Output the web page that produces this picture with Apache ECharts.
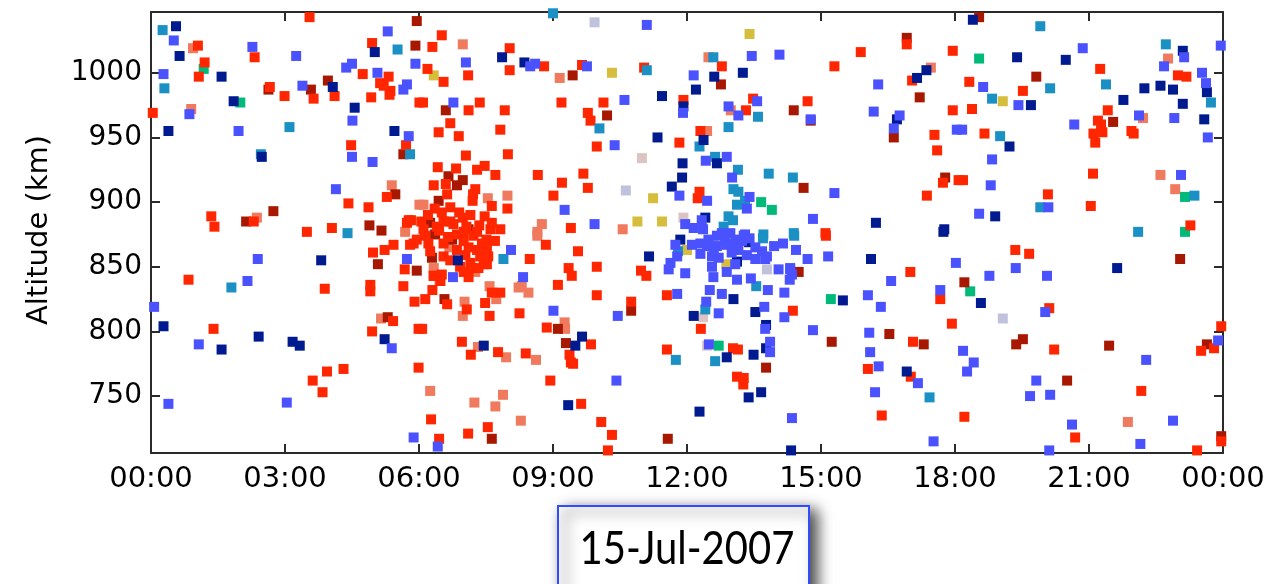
<!DOCTYPE html>
<html>
<head>
<meta charset="utf-8">
<script src="https://cdn.jsdelivr.net/npm/echarts@6/dist/echarts.min.js"></script>
<style>
html,body{margin:0;padding:0;background:#fff;}
#chart{width:1285px;height:584px;}
</style>
</head>
<body>
<div id="chart"></div>
<script>
// x = hour of day (UT), y = altitude (km)
const xTickHours = [0, 3, 6, 9, 12, 15, 18, 21, 24];
const yTickValues = [750, 800, 850, 900, 950, 1000];
const yAxisTitle = 'Altitude (km)';
const dateLabel = '15-Jul-2007';

const redPoints = [
[1.05,1021],[1.20,1008],[1.07,997],[3.55,1043],[2.32,1012],[2.66,989],[2.99,982],[3.64,980],[4.11,982],[0.04,969],
[4.74,999],[5.32,997],[5.13,992],[5.36,986],[5.34,983],[5.21,990],[4.93,981],[4.95,1023],[6.01,977],[5.71,944],
[4.48,944],[5.28,904],[4.42,899],[4.87,896],[1.35,889],[1.42,881],[2.30,885],[3.49,877],[4.05,880],[5.77,886],[5.73,884],
[0.84,840],[3.89,833],[1.40,802],[3.94,769],[4.31,771],[3.62,762],[3.84,753],[4.91,836],[4.91,831],[4.97,861],
[5.23,863],[5.43,867],[5.88,868],[5.68,848],[5.65,835],[5.90,823],[5.42,808],[4.95,800],[5.99,802],[5.99,772],
[6.51,1029],[6.30,1020],[8.03,1019],[6.19,1003],[6.55,993],[7.10,998],[8.03,1002],[8.80,1005],[9.65,1006],[11.04,1004],
[6.09,977],[7.11,971],[7.36,977],[7.92,971],[6.70,961],[6.44,954],[6.89,951],[7.82,956],[9.19,977],[10.13,977],
[9.78,969],[9.84,963],[11.92,979],[9.98,943],[11.83,946],[9.40,880],[9.01,905],[9.20,915],[9.78,911],[9.68,922],
[8.66,921],[7.99,937],[7.05,936],[6.42,927],[6.83,926],[7.30,925],[7.47,928],[7.71,921],[6.33,913],[6.60,914],
[7.26,910],[7.21,906],[6.63,906],[7.63,897],[7.98,895],[7.20,901],[6.70,896],[6.51,892],[7.47,889],
[6.98,888],[6.70,885],[5.82,886],[6.10,879],[6.14,874],[6.40,881],[6.55,885],[6.77,883],[7.06,881],[7.30,877],
[7.60,879],[7.82,879],[7.63,884],[7.51,871],[7.41,868],[7.22,874],[7.00,870],[6.55,868],[5.95,871],[5.80,867],
[6.21,868],[6.85,863],[7.11,865],[7.30,863],[7.52,865],[6.55,858],[7.04,859],[7.15,853],[7.37,858],[7.45,852],
[6.92,850],[7.19,849],[6.33,843],[6.51,844],[7.52,852],[7.33,849],
[6.20,890],[6.35,895],[6.90,892],[7.15,890],[6.45,878],[6.85,875],[7.00,877],[6.65,873],[7.35,882],[6.25,862],
[6.70,855],[7.00,846],[6.05,885],[7.70,870],[7.55,858],
[8.84,867],[9.56,862],[8.48,856],[9.98,850],[9.35,849],[9.42,843],[9.11,836],[7.11,842],[6.33,843],[6.48,839],
[7.82,830],[7.63,830],[6.30,832],[6.14,825],[6.63,821],[7.07,817],[7.48,822],[7.58,812],[8.25,814],[6.07,802],
[6.96,792],[7.16,782],[7.77,784],[8.39,783],[8.86,803],[9.85,790],[9.37,782],[9.40,776],[9.45,775],[10.75,823],
[9.98,828],[10.97,847],[11.09,843],[11.55,828],[11.55,786],[8.94,762],[9.63,744],[6.27,732],[10.08,730],[7.54,726],
[7.10,721],[6.45,717],[10.32,720],[10.23,708],
[12.78,1005],[13.48,980],[13.32,971],[14.70,978],[12.30,955],[12.28,908],[12.24,903],[15.10,876],[15.89,1016],[15.30,1005],
[16.92,1022],[17.95,1017],[17.04,994],[17.95,971],[17.54,952],[17.60,940],[17.73,915],[18.08,917],[17.37,905],
[15.11,874],[17.00,846],[14.37,816],[12.31,802],[17.67,825],[17.93,806],[13.03,787],[13.14,786],[17.06,792],[16.05,771],
[17.01,765],[13.12,765],[13.27,764],[13.26,759],[16.36,735],
[21.25,1003],[18.32,993],[19.52,986],[18.38,972],[21.42,971],[21.20,963],[21.27,960],[21.10,953],[21.30,954],[21.14,946],
[18.66,953],[18.18,917],[21.09,922],[20.08,906],[21.04,897],[21.95,955],[22.00,953],[22.99,998],[23.18,997],[23.27,882],
[19.35,863],[19.66,860],[20.11,818],[23.96,804],[23.51,785],[23.80,787],[20.22,786],[22.17,754],[18.21,734],[20.69,718],
[23.96,715],[23.42,708]
];

const darkRedPoints = [
[2.63,987],[3.58,987],[3.96,994],[5.92,1021],[5.95,1040],[5.65,937],[5.47,906],[2.13,885],[2.74,893],[4.89,882],[5.16,878],
[5.08,852],[5.95,847],[5.30,811],
[9.44,998],[6.60,971],[10.21,967],[6.66,920],[6.98,917],[6.85,913],[6.44,901],
[6.25,884],[7.11,879],[6.74,871],[6.36,875],[6.29,857],
[6.57,825],[9.11,802],[9.29,791],[10.75,816],[7.63,717],[11.57,717],
[12.76,991],[14.39,971],[14.77,963],[14.61,911],[16.92,1027],[17.21,981],[16.63,950],[17.78,919],
[14.50,846],[13.77,772],[15.24,792],[16.53,798],[17.30,790],
[18.54,1043],[19.82,997],[21.54,962],
[23.04,856],[18.21,838],[23.64,790],[19.37,790],[19.52,794],[21.45,789],[20.51,762],[23.96,719]
];

const salmonPoints = [
[0.94,1019],[0.90,972],[5.39,913],[6.01,898],[2.37,888],[5.69,877],[5.15,810],
[6.98,1022],[9.15,996],[7.54,903],[7.98,905],[6.10,898],[10.56,879],[8.75,883],[8.65,877],
[6.68,865],[6.33,849],[7.26,846],[6.46,839],
[8.65,874],[7.58,835],[8.23,834],[8.45,830],[8.30,835],[7.02,823],[7.73,825],[6.98,812],[7.32,788],[7.95,780],
[8.62,778],[9.26,807],[9.27,802],[6.25,754],[7.88,751],[7.24,745],[7.71,742],[8.28,731],
[12.48,1012],[12.98,971],[12.45,955],[17.46,1004],
[22.21,965],[22.77,1011],[22.60,921],[22.93,910],[21.87,730]
];

const bluePoints = [
[0.51,1025],[0.28,999],[2.27,1020],[3.25,1013],[3.39,990],[4.50,1007],[4.37,1004],[5.07,1000],[5.73,991],[5.65,987],
[4.51,963],[0.86,968],[1.96,955],[5.30,1032],[5.92,1007],[5.77,951],[4.50,935],[4.96,931],[4.14,910],
[2.39,856],[2.16,839],[0.07,819],[1.07,790],[0.39,744],[3.04,745],[5.73,856],[5.39,787],[5.88,718],
[7.05,1008],[8.60,1007],[8.49,1005],[9.76,1005],[11.10,1037],[6.77,977],[10.60,979],[11.91,969],[10.38,944],[11.83,905],
[11.96,883],[9.93,883],[9.26,894],
[8.06,863],[8.33,842],[6.76,842],[9.01,816],[10.45,812],[11.59,848],[11.63,853],[11.78,858],[11.96,845],[11.78,829],
[10.42,762],[6.42,711],
[13.45,1013],[14.07,1014],[12.15,998],[13.57,978],[12.93,974],[13.15,967],[14.77,964],[12.42,932],[12.89,935],[13.01,919],
[15.30,907],[12.45,901],[13.40,904],[13.34,895],[12.33,886],[12.36,879],[14.82,887],[13.30,875],[16.28,991],[16.18,970],
[16.76,967],[16.63,957],[18.04,956],
[11.74,867],[12.11,867],[12.30,868],[12.48,871],[12.67,874],[12.82,875],[12.45,866],[12.67,866],[12.89,867],[13.04,868],
[13.23,870],[13.27,874],[13.53,865],[13.68,862],[13.79,858],[13.15,863],[13.34,859],[12.56,858],[12.71,857],[12.56,850],
[13.08,852],[13.53,856],[13.75,856],[14.05,848],[14.31,849],[14.35,844],[12.89,846],[12.78,876],[12.97,876],[12.15,880],
[13.40,872],[13.00,861],[12.30,860],[12.85,870],[13.10,871],[12.60,863],[13.95,866],
[14.15,868],[14.44,863],[14.70,856],[15.16,858],[18.02,853],[14.31,848],[14.30,840],[16.57,839],[13.81,832],[14.18,830],
[13.43,841],[13.12,840],[12.59,842],[12.51,832],[12.78,829],[12.43,823],[12.71,814],[13.73,819],[14.18,811],[13.75,802],
[14.82,801],[16.05,828],[16.34,819],[17.67,832],[12.49,790],[13.86,792],[13.86,784],[16.08,799],[16.10,784],[16.29,773],
[17.17,760],[16.21,753],[14.35,733],[17.52,715],
[20.86,1019],[18.63,989],[19.42,975],[20.67,960],[18.16,956],[18.83,933],[18.80,913],[20.09,896],[18.54,891],[22.12,967],
[23.13,1012],[22.68,1005],[23.53,1000],[23.62,992],[23.95,1021],[22.91,965],[23.66,950],[23.06,921],
[19.36,849],[18.77,843],[20.06,843],[20.02,815],[23.89,793],[22.28,778],[18.18,785],[18.42,776],[18.27,769],[19.82,762],
[19.68,750],[20.13,751],[20.62,728],[22.88,731],[22.15,713],[20.11,708]
];

const navyPoints = [
[0.56,1036],[0.64,1013],[1.58,997],[1.85,978],[4.07,989],[4.56,973],[0.39,955],[2.48,935],[5.01,1016],[5.45,955],
[3.81,855],[0.28,804],[1.58,786],[2.41,796],[3.17,792],[3.33,789],[5.23,794],
[7.86,1012],[8.36,1008],[11.44,982],[11.92,974],[11.34,950],[11.90,930],[11.89,919],[11.66,912],
[6.87,855],[7.45,789],[9.65,796],[9.50,789],[11.15,858],[11.85,871],[9.34,743],
[12.61,997],[13.25,1000],[12.20,987],[12.37,948],[12.67,930],[12.41,888],[16.23,884],[17.76,879],[17.36,1002],[17.15,996],[16.70,964],
[13.39,869],[13.12,854],
[17.74,877],[16.12,856],[13.04,825],[12.15,812],[13.53,815],[13.77,805],[15.49,824],[13.77,787],[12.89,780],[13.49,782],
[16.92,769],[13.66,753],[13.38,749],[12.28,738],[14.33,708],
[18.40,1041],[19.39,1012],[20.48,1010],[19.70,975],[21.77,979],[19.22,943],[18.90,889],[22.24,988],[22.60,990],[22.88,987],
[23.10,1017],[23.64,985],[23.10,976],[23.58,964],
[21.63,849],[18.58,822]
];

const tealPoints = [
[0.26,1033],[0.30,988],[3.10,958],[2.46,937],[5.52,1018],[5.80,937],[4.40,876],[1.80,834],
[9.00,1046],[11.10,1002],[10.04,957],[7.89,856],[11.75,778],
[12.59,1012],[13.59,966],[12.93,958],[12.28,943],[12.63,935],[13.14,925],[13.83,922],[14.37,919],[13.04,910],[13.15,908],
[13.12,898],[13.30,901],[12.93,889],[13.03,886],[14.39,876],[13.71,875],
[12.82,881],[11.80,862],[12.86,872],
[13.70,872],[14.40,874],[13.55,835],[12.41,817],[12.63,777],[17.43,749],
[19.91,1036],[20.13,988],[21.38,991],[18.83,980],[19.01,951],[19.91,896],[22.72,1022],[23.73,977],[23.36,905],[22.10,877]
];

const greenPoints = [
[1.18,1003],[2.00,977],[13.66,900],[13.90,894],[15.22,825],[12.71,789],[18.54,1011],[23.15,904],[23.15,877],[18.34,831]
];

const yellowPoints = [
[6.33,998],[10.32,1000],[11.24,903],[10.89,885],[11.44,885],[13.40,1030],[12.88,852],[12.59,870],[12.00,863],[19.07,978]
];

const lavenderPoints = [
[9.93,1039],[10.63,909],[13.79,848],[19.07,810]
];

const pinkGreyPoints = [
[10.99,934],[11.92,888],[12.36,811],[12.45,789]
];

const seriesDefs = [
  {name:'lavender', data: lavenderPoints, color:'#c0c1dc'},
  {name:'pinkgrey', data: pinkGreyPoints, color:'#dcc4c4'},
  {name:'yellow', data: yellowPoints, color:'#d6be3c'},
  {name:'green', data: greenPoints, color:'#00ba7a'},
  {name:'salmon', data: salmonPoints, color:'#ef7a5e'},
  {name:'darkred', data: darkRedPoints, color:'#a81800'},
  {name:'red', data: redPoints, color:'#ff2600'},
  {name:'teal', data: tealPoints, color:'#1a90c4'},
  {name:'navy', data: navyPoints, color:'#001a8f'},
  {name:'blue', data: bluePoints, color:'#4a52ff'}
];

const chart = echarts.init(document.getElementById('chart'), null, {renderer:'canvas'});
const frameColor = '#2a2a2a';
const labelFont = 'DejaVu Sans';

function hourLabel(v){
  const h = Math.round(v) % 24;
  return (h < 10 ? '0' + h : '' + h) + ':00';
}
function plainNumber(v){ return String(Math.round(v)); }

const xBase = {
  type:'value', min:0, max:24, interval:3,
  axisLine:{show:true, onZero:false, lineStyle:{color:frameColor, width:2}},
  axisTick:{show:true, inside:true, length:9, lineStyle:{color:frameColor, width:2}},
  splitLine:{show:false}
};
const yBase = {
  type:'value', min:706, max:1047,
  axisLine:{show:true, onZero:false, lineStyle:{color:frameColor, width:2}},
  axisTick:{show:true, inside:true, length:9, customValues:yTickValues, lineStyle:{color:frameColor, width:2}},
  splitLine:{show:false}
};

chart.setOption({
  animation:false,
  backgroundColor:'#ffffff',
  grid:{left:151, right:62, top:12, bottom:131, containLabel:false},
  xAxis:[
    Object.assign({}, xBase, {position:'bottom',
      axisLabel:{show:true, formatter:hourLabel, color:'#000', fontFamily:labelFont, fontSize:29, margin:12,
        customValues:xTickHours}}),
    Object.assign({}, xBase, {position:'top', axisLabel:{show:false}})
  ],
  yAxis:[
    Object.assign({}, yBase, {position:'left',
      axisLabel:{show:true, formatter:plainNumber, color:'#000', fontFamily:labelFont, fontSize:28, margin:9, customValues:yTickValues}}),
    Object.assign({}, yBase, {position:'right', axisLabel:{show:false}})
  ],
  series: seriesDefs.map(s => ({
    name:s.name, type:'scatter', xAxisIndex:0, yAxisIndex:0,
    symbol:'rect', symbolSize:10, clip:false,
    itemStyle:{color:s.color, opacity:1},
    data:s.data
  })),
  graphic:[
    {type:'text', x:39, y:230, rotation:Math.PI/2,
      style:{text:yAxisTitle, fill:'#000', font:'29px "DejaVu Sans"', textAlign:'center', textVerticalAlign:'middle'}},
    {type:'rect', shape:{x:558, y:506, width:251, height:100},
      style:{fill:'#ffffff', stroke:'#2f4dff', lineWidth:2,
        shadowBlur:14, shadowOffsetX:7, shadowOffsetY:5, shadowColor:'rgba(0,0,0,0.75)'}},
    {type:'text', x:687, y:549, scaleY:1.15,
      style:{text:dateLabel, fill:'#000', font:'40px Lato', textAlign:'center', textVerticalAlign:'middle'}}
  ]
});
</script>
</body>
</html>
